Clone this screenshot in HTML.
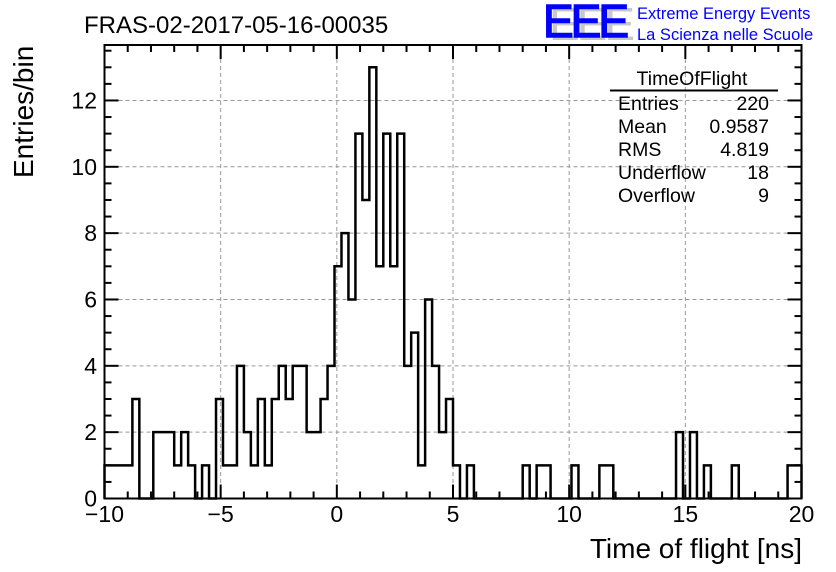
<!DOCTYPE html>
<html><head><meta charset="utf-8">
<style>
html,body{margin:0;padding:0;background:#fff;}
svg{display:block;font-family:"Liberation Sans",sans-serif;}
</style></head>
<body>
<svg id="chart" width="836" height="572" viewBox="0 0 836 572" xmlns="http://www.w3.org/2000/svg">
<rect x="0" y="0" width="836" height="572" fill="#fff"/>
<g id="grid"></g>
<g id="hist"></g>
<g id="axes"></g>
<text x="84" y="33" font-size="24" fill="#000">FRAS-02-2017-05-16-00035</text>
<g>
<text x="549" y="40" font-size="46" fill="#c8c8c8" letter-spacing="-3">EEE</text>
<text x="543" y="37" font-size="46" fill="#0000ff" letter-spacing="-3" stroke="#0000ff" stroke-width="1.5">EEE</text>
<text x="637" y="19" font-size="16.5" fill="#0000ff">Extreme Energy Events</text>
<text x="637" y="40" font-size="16.5" fill="#0000ff">La Scienza nelle Scuole</text>
</g>
<g font-size="19.5" fill="#000">
<text x="692" y="85" text-anchor="middle">TimeOfFlight</text>
<line x1="610" y1="90.5" x2="778" y2="90.5" stroke="#000" stroke-width="2"/>
<text x="618" y="110">Entries</text>
<text x="769" y="110" text-anchor="end">220</text>
<text x="618" y="133">Mean</text>
<text x="769" y="133" text-anchor="end">0.9587</text>
<text x="618" y="156">RMS</text>
<text x="769" y="156" text-anchor="end">4.819</text>
<text x="618" y="179">Underflow</text>
<text x="769" y="179" text-anchor="end">18</text>
<text x="618" y="202">Overflow</text>
<text x="769" y="202" text-anchor="end">9</text>
</g>
<text x="802" y="558" font-size="28" text-anchor="end">Time of flight [ns]</text>
<text transform="translate(33,178) rotate(-90)" font-size="28" text-anchor="start">Entries/bin</text>
</svg>
<script>
const binCounts = [1,1,1,1,3,0,0,2,2,2,1,2,1,0,1,0,3,1,1,4,2,1,3,1,3,4,3,4,4,2,2,3,4,7,8,6,11,9,13,7,11,7,11,4,5,1,6,4,2,3,1,0,1,0,0,0,0,0,0,0,1,0,1,1,0,0,0,1,0,0,0,1,1,0,0,0,0,0,0,0,0,0,2,0,2,0,1,0,0,0,1,0,0,0,0,0,0,0,1,1];
const xRange = [-10, 20];
const yRange = [0, 13.6];
const xTickLabels = ["\u221210","\u22125","0","5","10","15","20"];
const yTickLabels = ["0","2","4","6","8","10","12"];

const L=104.5, R=801.5, T=45, B=498.5;
const NS="http://www.w3.org/2000/svg";
const xs = v => L + (v - xRange[0])/(xRange[1]-xRange[0])*(R-L);
const ys = v => B - (v - yRange[0])*33.17;
function mk(tag, attrs, parent){const e=document.createElementNS(NS,tag);for(const k in attrs)e.setAttribute(k,attrs[k]);parent.appendChild(e);return e;}
const grid=document.getElementById('grid'), hist=document.getElementById('hist'), axes=document.getElementById('axes');

for(let i=1;i<xTickLabels.length-1;i++){
  const v=xRange[0]+i*5;
  const g=mk('line',{x1:xs(v),x2:xs(v),y1:T,y2:B,stroke:'#999','stroke-width':1,'stroke-dasharray':'4,3'},grid);
  
  
}
for(let i=1;i<yTickLabels.length;i++){
  const v=i*2;
  const g=mk('line',{x1:L,x2:R,y1:ys(v),y2:ys(v),stroke:'#999','stroke-width':1,'stroke-dasharray':'4,3'},grid);
  
  
}

const n=binCounts.length, bw=(xRange[1]-xRange[0])/n;
let d='M'+xs(xRange[0])+','+ys(0);
for(let i=0;i<n;i++){
  const x0=xs(xRange[0]+i*bw), x1=xs(xRange[0]+(i+1)*bw), y=ys(binCounts[i]);
  d+=' L'+x0+','+y+' L'+x1+','+y;
}
d+=' L'+xs(xRange[1])+','+ys(0);
const p=mk('path',{d:d,fill:'none',stroke:'#000','stroke-width':2.5,'stroke-linejoin':'miter'},hist);



const fr=mk('rect',{x:L,y:T,width:R-L,height:B-T,fill:'none',stroke:'#000','stroke-width':2},axes);



for(let v=xRange[0]; v<=xRange[1]; v++){
  const major=(v%5===0), len=major?14:7;
  const t1=mk('line',{x1:xs(v),x2:xs(v),y1:B,y2:B-len,stroke:'#000','stroke-width':2},axes);
  
  
  const t2=mk('line',{x1:xs(v),x2:xs(v),y1:T,y2:T+len,stroke:'#000','stroke-width':2},axes);
  
  
}
xTickLabels.forEach((lab,i)=>{
  const t=mk('text',{x:xs(xRange[0]+i*5),y:522,'font-size':23,'text-anchor':'middle'},axes);
  t.textContent=lab;
  
  
});
for(let k=0;k<=27;k++){
  const v=k*0.5; const major=(k%4===0), len=major?14:7;
  const t1=mk('line',{x1:L,x2:L+len,y1:ys(v),y2:ys(v),stroke:'#000','stroke-width':2},axes);
  
  
  const t2=mk('line',{x1:R,x2:R-len,y1:ys(v),y2:ys(v),stroke:'#000','stroke-width':2},axes);
  
  
}
yTickLabels.forEach((lab,i)=>{
  const t=mk('text',{x:97,y:ys(i*2)+8,'font-size':23,'text-anchor':'end'},axes);
  t.textContent=lab;
  
  
});
</script>
</body></html>
